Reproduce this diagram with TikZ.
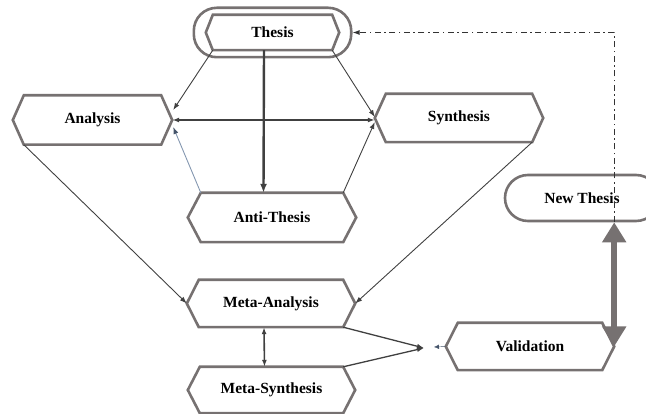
\documentclass[tikz,border=0pt]{standalone}
\usepackage{fontspec}
\setmainfont{Liberation Serif}
\usetikzlibrary{arrows.meta,fit}
\definecolor{DialBorder}{HTML}{767171}
\definecolor{DialInk}{HTML}{404040}
\definecolor{DialSteel}{HTML}{8497B0}
\definecolor{DialNavy}{HTML}{44546A}

\begin{document}
\begin{tikzpicture}[
  x=1pt,y=-1pt,
  boxtext/.style={font=\bfseries\fontsize{15.5}{18}\selectfont,inner sep=0pt,align=center},
  hexline/.style={draw=DialBorder,line width=2.6pt,line join=miter},
  ring/.style={draw=DialBorder,line width=2.6pt},
  arrow/.style={-{Latex[length=7pt,width=5pt]},draw=DialInk,line width=0.9pt},
  both/.style={{Latex[length=7pt,width=5pt]}-{Latex[length=7pt,width=5pt]},draw=DialInk,line width=1.6pt},
  bigarrow/.style={{Triangle[length=20pt,width=23pt]}-{Triangle[length=20pt,width=23pt]},draw=DialBorder,line width=6.5pt}
]
\useasboundingbox (0,0) rectangle (646,414);
\node[boxtext,minimum width=133pt,minimum height=35pt] (thesis) at (272.5,32.5) {Thesis};
\node[boxtext,minimum width=159pt,minimum height=49pt] (analysis) at (92.5,120) {Analysis};
\node[boxtext,minimum width=168pt,minimum height=48pt] (synthesis) at (459,118) {Synthesis};
\node[boxtext,minimum width=168pt,minimum height=49pt] (antithesis) at (272,217.5) {Anti-Thesis};
\node[boxtext,minimum width=168pt,minimum height=47pt] (metaanalysis) at (271,303.5) {Meta-Analysis};
\node[boxtext,minimum width=167pt,minimum height=46pt] (metasynthesis) at (271.5,390) {Meta-Synthesis};
\node[boxtext,minimum width=168pt,minimum height=47pt] (validation) at (530,346.5) {Validation};
\node[ring,boxtext,rounded corners=23pt,minimum width=154pt,minimum height=46pt] (newthesis) at (582,198) {New Thesis};
\node[ring,rounded corners=23pt,fit=(thesis),inner xsep=12pt,inner ysep=7pt] (thesisring) {};
\foreach \n/\d in {thesis/7,analysis/11,synthesis/11,antithesis/13,metaanalysis/12,metasynthesis/12,validation/12}
  \draw[hexline] ([xshift=\d pt]\n.north west) -- ([xshift=-\d pt]\n.north east) -- (\n.east)
    -- ([xshift=-\d pt]\n.south east) -- ([xshift=\d pt]\n.south west) -- (\n.west) -- cycle;
\coordinate (merge) at (424,348);
\coordinate (inlet) at (434,347);
\draw[arrow,line width=2.4pt,-{Latex[length=9pt,width=7pt]}] ([xshift=-8.5pt]thesis.south) -- ([xshift=-8.5pt]antithesis.north);
\draw[both] (analysis.east) -- (analysis.east -| synthesis.west);
\draw[arrow] ([xshift=7pt]thesis.south west) -- ([xshift=1pt,yshift=10pt]analysis.east);
\draw[arrow] ([xshift=-7pt]thesis.south east) -- ([yshift=1pt]synthesis.west);
\draw[arrow,draw=DialSteel,-{Latex[length=7pt,width=5pt,color=DialNavy]}] ([xshift=13pt]antithesis.north west) -- ([xshift=1pt,yshift=-7pt]analysis.east);
\draw[arrow] ([xshift=-13pt]antithesis.north east) -- ([yshift=-4pt]synthesis.west);
\draw[arrow] ([xshift=11pt]analysis.south west) -- (metaanalysis.west);
\draw[arrow] ([xshift=-11pt]synthesis.south east) -- (metaanalysis.east);
\draw[both] ([xshift=-7pt]metaanalysis.south) -- ([xshift=-7pt]metasynthesis.north);
\draw[arrow,line width=1.3pt] ([xshift=-12pt]metaanalysis.south east) -- (merge);
\draw[arrow,line width=1.3pt] ([xshift=-12pt]metasynthesis.north east) -- (merge);
\draw[-{Latex[length=5pt,width=4.5pt]},draw=DialNavy] (validation.west) -- (inlet);
\draw[arrow,line width=1.2pt,draw=black!80,dash pattern=on 6pt off 3.5pt on 1.6pt off 3.5pt] (newthesis.south -| validation.east) |- (thesisring.east);
\draw[bigarrow] (newthesis.south -| validation.east) -- (validation.east);
\end{tikzpicture}
\end{document}
